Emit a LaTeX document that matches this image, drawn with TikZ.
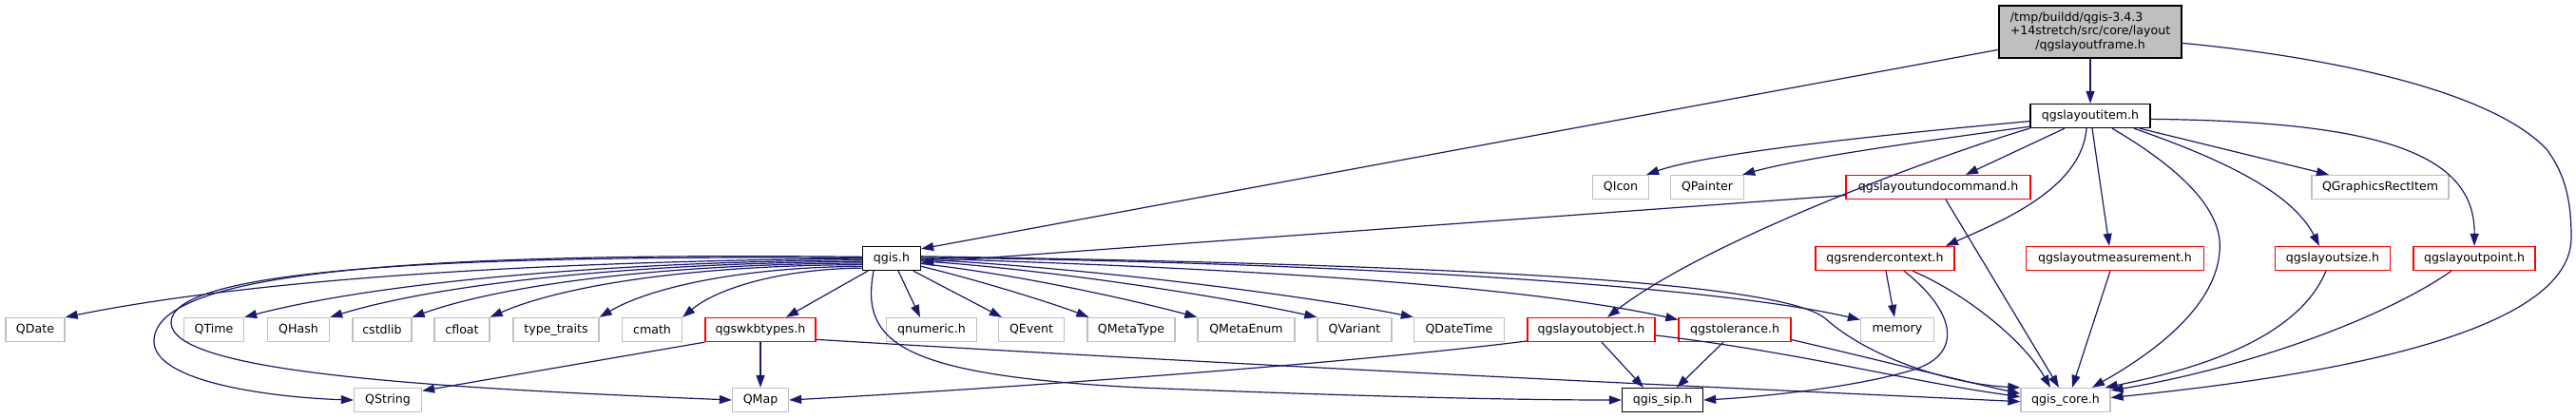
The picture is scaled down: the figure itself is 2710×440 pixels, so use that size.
\documentclass[tikz,border=0pt]{standalone}
\usepackage{fontspec}
\setmainfont{DejaVu Sans}
\usetikzlibrary{arrows.meta}
\definecolor{edgeblue}{HTML}{191970}
\definecolor{grayb}{HTML}{BFBFBF}
\begin{document}
\begin{tikzpicture}[x=1pt,y=-1pt,
  base/.style={draw, rectangle, minimum height=25pt, inner sep=0pt, line width=1.3pt, fill=white, font=\fontsize{12.6}{14.4}\selectfont},
  gnode/.style={base, draw=grayb},
  rnode/.style={base, draw=red},
  bnode/.style={base, draw=black},
  edge/.style={draw=edgeblue, line width=1.2pt, -{Triangle[length=13pt,width=9pt]}}]
\useasboundingbox (0,0) rectangle (2710,440);
% nodes
\node[bnode, fill=grayb, minimum width=192pt, minimum height=55pt, align=center] (frame) at (2199,33.5)
  {\rlap{/tmp/buildd/qgis-3.4.3}\phantom{+14stretch/src/core/layout}\\+14stretch/src/core/layout\\/qgslayoutframe.h};
\node[bnode, minimum width=126pt] (item) at (2199,122) {qgslayoutitem.h};
\node[gnode, minimum width=59pt] (QIcon) at (1705,197) {QIcon};
\node[gnode, minimum width=77pt] (QPainter) at (1796,197) {QPainter};
\node[rnode, minimum width=194pt] (undo) at (2039,197) {qgslayoutundocommand.h};
\node[gnode, minimum width=144pt] (QGRI) at (2504,197) {QGraphicsRectItem};
\node[bnode, minimum width=61pt] (qgis) at (938,272) {qgis.h};
\node[rnode, minimum width=146pt] (rctx) at (1983,272) {qgsrendercontext.h};
\node[rnode, minimum width=187pt] (meas) at (2225,272) {qgslayoutmeasurement.h};
\node[rnode, minimum width=121pt] (size) at (2454,272) {qgslayoutsize.h};
\node[rnode, minimum width=128pt] (point) at (2603,272) {qgslayoutpoint.h};
\node[gnode, minimum width=62pt] (QDate) at (37,347) {QDate};
\node[gnode, minimum width=63pt] (QTime) at (225,347) {QTime};
\node[gnode, minimum width=65pt] (QHash) at (314,347) {QHash};
\node[gnode, minimum width=62pt] (cstdlib) at (402,347) {cstdlib};
\node[gnode, minimum width=58pt] (cfloat) at (486,347) {cfloat};
\node[gnode, minimum width=90pt] (ttraits) at (585,347) {type\_traits};
\node[gnode, minimum width=63pt] (cmath) at (686,347) {cmath};
\node[rnode, minimum width=116pt] (wkb) at (800,347) {qgswkbtypes.h};
\node[gnode, minimum width=95pt] (qnumeric) at (980,347) {qnumeric.h};
\node[gnode, minimum width=69pt] (QEvent) at (1085,347) {QEvent};
\node[gnode, minimum width=92pt] (QMetaType) at (1190,347) {QMetaType};
\node[gnode, minimum width=102pt] (QMetaEnum) at (1311,347) {QMetaEnum};
\node[gnode, minimum width=78pt] (QVariant) at (1425,347) {QVariant};
\node[gnode, minimum width=95pt] (QDateTime) at (1535,347) {QDateTime};
\node[rnode, minimum width=134pt] (lobj) at (1674,347) {qgslayoutobject.h};
\node[rnode, minimum width=118pt] (tol) at (1825,347) {qgstolerance.h};
\node[gnode, minimum width=77pt] (memory) at (1996,347) {memory};
\node[gnode, minimum width=71pt] (QString) at (408,421) {QString};
\node[gnode, minimum width=59pt] (QMap) at (800,421) {QMap};
\node[bnode, minimum width=85pt] (sip) at (1749,421) {qgis\_sip.h};
\node[gnode, minimum width=94pt] (core) at (2173,421) {qgis\_core.h};
% frame edges
\draw[edge] (frame) -- (item);
\draw[edge] (frame.191) -- (qgis.18);
\draw[edge] (frame.-7) .. controls (2450,60) and (2620,95) .. (2679,157)
  .. controls (2700,185) and (2705,215) .. (2705,250)
  .. controls (2705,360) and (2400,400) .. (core.3);
% item edges
\draw[edge] (item.185) .. controls (2000,140) and (1800,160) .. ([xshift=-3pt]QIcon.north east);
\draw[edge] (item.190) .. controls (2050,145) and (1900,165) .. ([xshift=-2pt]QPainter.north east);
\draw[edge] ([xshift=-27pt]item.south) -- ([xshift=29pt]undo.north);
\draw[edge] ([xshift=-4pt]item.south) .. controls (2190,200) and (2100,235) .. ([xshift=64pt]rctx.north);
\draw[edge] ([xshift=2pt]item.south) -- ([xshift=-6pt]meas.north);
\draw[edge] ([xshift=23pt]item.south) .. controls (2290,175) and (2340,220) .. (2335,265)
  .. controls (2330,330) and (2250,380) .. ([xshift=28pt]core.north);
\draw[edge] ([xshift=52pt]item.south) -- ([xshift=-54pt]QGRI.north);
\draw[edge] ([xshift=46pt]item.south) .. controls (2330,165) and (2410,200) .. ([xshift=-14pt]size.north);
\draw[edge] (item.-3) .. controls (2500,128) and (2604,160) .. (point.north);
\draw[edge] (item.south west) .. controls (2050,160) and (1800,250) .. ([xshift=17pt]lobj.north);
% undo edges
\draw[edge] (undo.185) -- (qgis.-8);
\draw[edge] ([xshift=8pt]undo.south) -- ([xshift=-7pt]core.north);
% rendercontext edges
\draw[edge] ([xshift=1pt]rctx.south) -- ([xshift=-3pt]memory.north);
\draw[edge] ([xshift=20pt]rctx.south) .. controls (2060,330) and (2065,375) .. (2010,390)
  .. controls (1950,408) and (1850,418) .. (sip.east);
\draw[edge] ([xshift=29pt]rctx.south) .. controls (2070,310) and (2130,360) .. ([xshift=-16pt]core.north);
% other mid-level
\draw[edge] ([xshift=-5pt]meas.south) -- ([xshift=7pt]core.north);
\draw[edge] ([xshift=-7pt]size.south) .. controls (2420,350) and (2330,385) .. ([xshift=-6pt]core.north east);
\draw[edge] ([xshift=-24pt]point.south) .. controls (2500,340) and (2350,390) .. (core.12);
% qgis left fan
\draw[edge] (qgis.180) .. controls (500,276) and (236,300) .. (QDate.north east);
\draw[edge] (qgis.183) .. controls (614,276) and (387,300) .. (QTime.north east);
\draw[edge] (qgis.186) .. controls (654,277) and (458,300) .. (QHash.north east);
\draw[edge] (qgis.189) .. controls (694,278) and (528,300) .. (cstdlib.north east);
\draw[edge] (qgis.192) .. controls (731,279) and (593,300) .. (cfloat.north east);
\draw[edge] (qgis.195) .. controls (782,281) and (685,302) .. (ttraits.north east);
\draw[edge] (qgis.198) .. controls (822,283) and (755,303) .. (cmath.north east);
\draw[edge] ([xshift=-25pt]qgis.south) -- ([xshift=27pt]wkb.north);
\draw[edge] (qgis.177) .. controls (400,265) and (160,290) .. (162,360)
  .. controls (164,405) and (300,419) .. (QString.west);
\draw[edge] (qgis.179) .. controls (450,268) and (178,285) .. (180,340)
  .. controls (182,392) and (450,408) .. (QMap.west);
% qgis right fan
\draw[edge] ([xshift=7pt]qgis.south) -- ([xshift=-12pt]qnumeric.north);
\draw[edge] (qgis.-30) -- ([xshift=4pt]QEvent.north west);
\draw[edge] (qgis.-15) .. controls (1030,295) and (1110,320) .. ([xshift=2pt]QMetaType.north west);
\draw[edge] (qgis.-10) .. controls (1080,290) and (1200,318) .. (QMetaEnum.north west);
\draw[edge] (qgis.-5) .. controls (1120,285) and (1300,315) .. (QVariant.north west);
\draw[edge] (qgis.-2) .. controls (1150,282) and (1380,312) .. (QDateTime.north west);
\draw[edge] (qgis.0) .. controls (1300,282) and (1600,300) .. (tol.170);
\draw[edge] (qgis.2) .. controls (1400,276) and (1800,300) .. (memory.165);
\draw[edge] (qgis.4) .. controls (1500,278) and (1870,295) .. (1920,335)
  .. controls (1970,380) and (2060,405) .. (core.north west);
\draw[edge] ([xshift=-19pt]qgis.south) .. controls (905,360) and (945,395) .. (1200,408)
  .. controls (1450,418) and (1600,421) .. (sip.west);
% qgswkbtypes
\draw[edge] (wkb.south west) -- (QString.15);
\draw[edge] (wkb.south) -- (QMap.north);
\draw[edge] (wkb.-10) .. controls (1400,390) and (1900,412) .. (core.182);
% qgslayoutobject
\draw[edge] (lobj.190) .. controls (1400,385) and (1000,412) .. (QMap.east);
\draw[edge] ([xshift=11pt]lobj.south) -- ([xshift=-20pt]sip.north);
\draw[edge] (lobj.-5) .. controls (1900,372) and (2000,400) .. (core.176);
% qgstolerance
\draw[edge] ([xshift=-12pt]tol.south) -- ([xshift=15pt]sip.north);
\draw[edge] (tol.-10) .. controls (1960,375) and (2060,400) .. (core.172);
\end{tikzpicture}
\end{document}
